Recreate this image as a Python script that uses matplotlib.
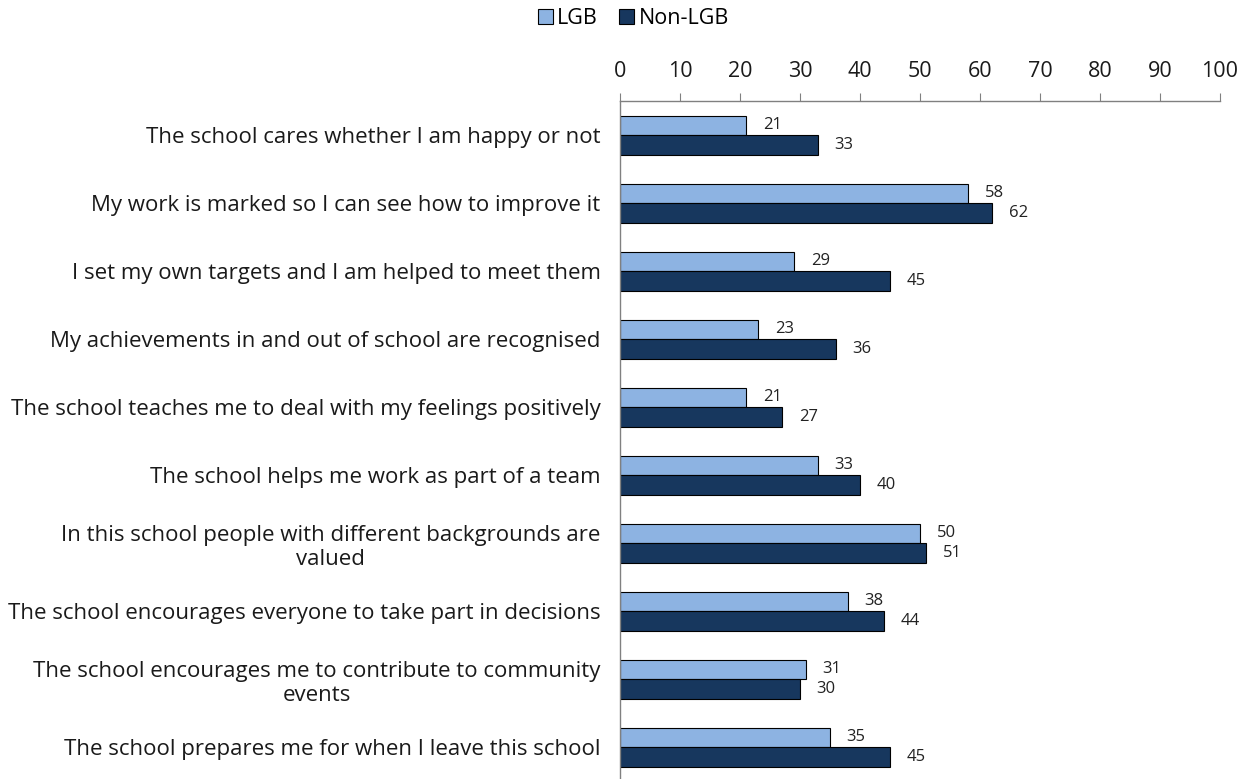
import matplotlib
matplotlib.use("Agg")
import matplotlib.pyplot as plt
import numpy as np

categories = [
    "The school cares whether I am happy or not",
    "My work is marked so I can see how to improve it",
    "I set my own targets and I am helped to meet them",
    "My achievements in and out of school are recognised",
    "The school teaches me to deal with my feelings positively",
    "The school helps me work as part of a team",
    "In this school people with different backgrounds are\nvalued",
    "The school encourages everyone to take part in decisions",
    "The school encourages me to contribute to community\nevents",
    "The school prepares me for when I leave this school",
]
lgb = [21, 58, 29, 23, 21, 33, 50, 38, 31, 35]
non_lgb = [33, 62, 45, 36, 27, 40, 51, 44, 30, 45]
series_names = ["LGB", "Non-LGB"]
xticks = list(range(0, 101, 10))

plt.rcParams['font.family'] = ['Open Sans', 'DejaVu Sans']

fig = plt.figure(figsize=(12.54, 7.79), dpi=100)
ax = fig.add_axes([0.4944, -0.003, 0.4785, 0.873])

y = np.arange(len(categories))
h = 0.29
c1, c2 = "#8DB3E2", "#17375E"
b1 = ax.barh(y - h/2, lgb, height=h, color=c1, edgecolor="black", linewidth=0.8, label=series_names[0])
b2 = ax.barh(y + h/2, non_lgb, height=h, color=c2, edgecolor="black", linewidth=0.8, label=series_names[1])

for bars, vals in ((b1, lgb), (b2, non_lgb)):
    for rect, v in zip(bars, vals):
        ax.annotate(str(v), (rect.get_width(), rect.get_y() + rect.get_height()/2),
                    xytext=(12, 0), textcoords="offset points", va="center", ha="left",
                    fontsize=12, color="#222222")

ax.set_xlim(0, 100)
ax.set_ylim(len(categories) - 0.5, -0.5)
ax.set_yticks(y)
ax.set_yticklabels(categories, fontsize=16, ha="right", multialignment="center", color="#1a1a1a")
ax.set_xticks(xticks)
ax.xaxis.tick_top()
ax.tick_params(axis="x", labelsize=15.5, length=6, color="#808080", direction="out", pad=8,
               labelcolor="#1a1a1a")
ax.tick_params(axis="y", length=0, pad=14)
for s in ("right", "bottom"):
    ax.spines[s].set_visible(False)
for s in ("top", "left"):
    ax.spines[s].set_color("#808080")
    ax.spines[s].set_linewidth(1)

fig.legend(handles=[b1, b2], labels=series_names, loc="center", bbox_to_anchor=(0.505, 0.976),
           ncol=2, frameon=False, fontsize=15.5, handlelength=0.7, handleheight=0.7,
           handletextpad=0.2, columnspacing=1.0)

fig.savefig("out.png", dpi=100)
